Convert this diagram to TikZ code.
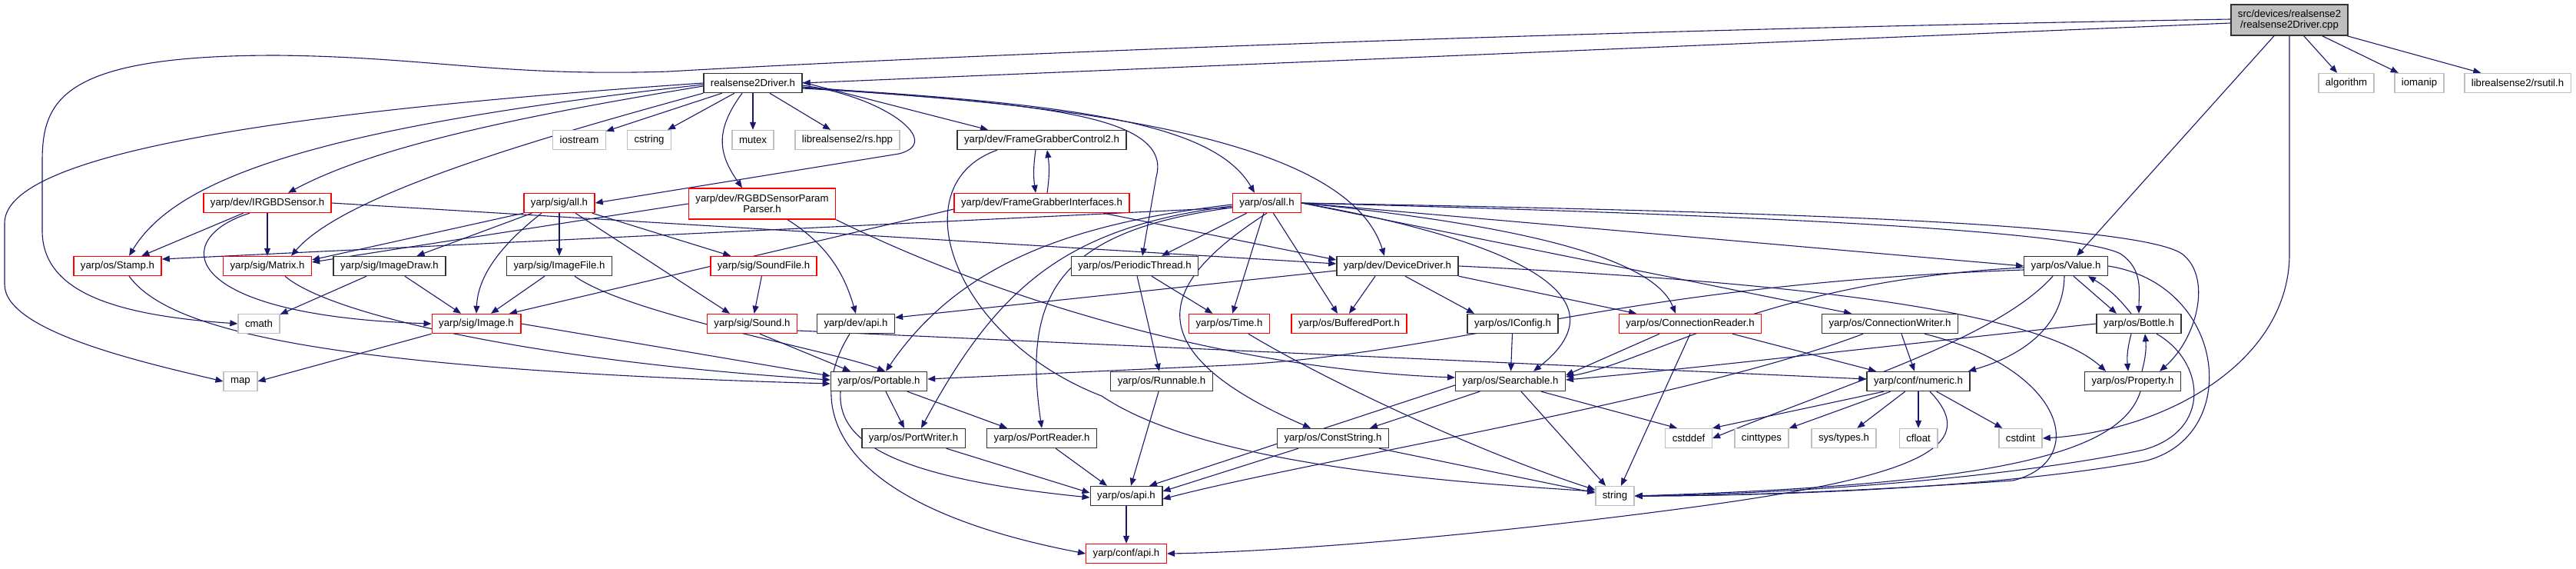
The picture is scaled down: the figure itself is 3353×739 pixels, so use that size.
\documentclass[tikz,border=0pt]{standalone}
\usepackage{fontspec}
\setmainfont{Liberation Sans}
\usepackage{tikz}
\usetikzlibrary{arrows.meta,backgrounds}
\definecolor{enlace}{HTML}{191970}
\definecolor{bordenegro}{HTML}{333333}
\definecolor{borderojo}{HTML}{FF0000}
\definecolor{bordegris}{HTML}{BFBFBF}
\definecolor{fondoraiz}{HTML}{BFBFBF}
\tikzset{
  fich/.style     = {draw=bordenegro, line width=1.4pt, fill=white, align=center,
                     font=\fontsize{13.2}{14}\selectfont, inner xsep=9pt,
                     inner ysep=2pt, minimum height=25pt},
  fichrojo/.style = {fich, draw=borderojo},
  fichsis/.style  = {fich, draw=bordegris},
  raiz/.style     = {fich, fill=fondoraiz, minimum height=40pt},
  flecha/.style   = {-{Triangle[length=10pt,width=8pt]}, draw=enlace, line width=1.1pt},
}

\begin{document}
\begin{tikzpicture}[x=1pt, y=-1pt]
  \useasboundingbox (0,0) rectangle (3353,739);
  \node[raiz] (cpp) at (2980,26) {src/devices/realsense2\\/realsense2Driver.cpp};
  \node[fich] (rs2h) at (980,108) {realsense2Driver.h};
  \node[fichsis] (algo) at (3054,108) {algorithm};
  \node[fichsis] (iomanip) at (3149,108) {iomanip};
  \node[fichsis] (rsutil) at (3277,108) {librealsense2/rsutil.h};
  \node[fichsis] (iostream) at (754,182) {iostream};
  \node[fichsis] (cstring) at (845,182) {cstring};
  \node[fichsis] (mutex) at (980,182) {mutex};
  \node[fichsis] (rshpp) at (1103,182) {librealsense2/rs.hpp};
  \node[fich] (fgc2) at (1356,182) {yarp/dev/FrameGrabberControl2.h};
  \node[fichrojo] (irgbd) at (348,264) {yarp/dev/IRGBDSensor.h};
  \node[fichrojo] (sigall) at (728,264) {yarp/sig/all.h};
  \node[fichrojo, minimum height=40pt] (rgbdpp) at (992,265) {yarp/dev/RGBDSensorParam\\Parser.h};
  \node[fichrojo] (fgi) at (1356,264) {yarp/dev/FrameGrabberInterfaces.h};
  \node[fichrojo] (osall) at (1649,264) {yarp/os/all.h};
  \node[fichrojo] (stamp) at (153,346) {yarp/os/Stamp.h};
  \node[fichrojo] (matrix) at (348,346) {yarp/sig/Matrix.h};
  \node[fich] (imgdraw) at (507,346) {yarp/sig/ImageDraw.h};
  \node[fich] (imgfile) at (728,346) {yarp/sig/ImageFile.h};
  \node[fichrojo] (soundfile) at (994,346) {yarp/sig/SoundFile.h};
  \node[fich] (pthread) at (1477,346) {yarp/os/PeriodicThread.h};
  \node[fich] (devdrv) at (1819,346) {yarp/dev/DeviceDriver.h};
  \node[fich] (value) at (2689,346) {yarp/os/Value.h};
  \node[fichsis] (cmath) at (337,421) {cmath};
  \node[fichrojo] (image) at (620,421) {yarp/sig/Image.h};
  \node[fichrojo] (sound) at (979,421) {yarp/sig/Sound.h};
  \node[fich] (devapi) at (1114,421) {yarp/dev/api.h};
  \node[fichrojo] (time) at (1600,421) {yarp/os/Time.h};
  \node[fichrojo] (bport) at (1756,421) {yarp/os/BufferedPort.h};
  \node[fich] (iconfig) at (1969,421) {yarp/os/IConfig.h};
  \node[fichrojo] (creader) at (2200,421) {yarp/os/ConnectionReader.h};
  \node[fich] (cwriter) at (2460,421) {yarp/os/ConnectionWriter.h};
  \node[fich] (bottle) at (2784,421) {yarp/os/Bottle.h};
  \node[fichsis] (map) at (313,496) {map};
  \node[fich] (portable) at (1144,496) {yarp/os/Portable.h};
  \node[fich] (runnable) at (1512,496) {yarp/os/Runnable.h};
  \node[fich] (searchable) at (1966,496) {yarp/os/Searchable.h};
  \node[fich] (numeric) at (2497,496) {yarp/conf/numeric.h};
  \node[fich] (property) at (2776,496) {yarp/os/Property.h};
  \node[fich] (pwriter) at (1189,570) {yarp/os/PortWriter.h};
  \node[fich] (preader) at (1356,570) {yarp/os/PortReader.h};
  \node[fich] (cstr) at (1735,570) {yarp/os/ConstString.h};
  \node[fichsis] (cstddef) at (2198,570) {cstddef};
  \node[fichsis] (cinttypes) at (2293,570) {cinttypes};
  \node[fichsis] (systypes) at (2400,570) {sys/types.h};
  \node[fichsis] (cfloat) at (2497,570) {cfloat};
  \node[fichsis] (cstdint) at (2630,570) {cstdint};
  \node[fich] (osapi) at (1466,645) {yarp/os/api.h};
  \node[fichsis] (string) at (2102,645) {string};
  \node[fichrojo] (confapi) at (1466,720) {yarp/conf/api.h};

  \begin{scope}[on background layer]
  \draw[flecha] ([yshift=-4pt]cpp.west) -- (rs2h.east);
  \draw[flecha] ([yshift=1pt]cpp.west) .. controls (2000,40) and (1200,74) .. (870,93) .. controls (650,100) and (560,74) .. (360,72) .. controls (80,72) and (55,130) .. (55,210) -- (55,300) .. controls (55,380) and (150,410) .. (cmath.west);
  \draw[flecha] ([xshift=-20pt]cpp.south) -- ([xshift=14pt]value.north);
  \draw[flecha] (cpp) -- (algo);
  \draw[flecha] (cpp) -- (iomanip);
  \draw[flecha] (cpp) -- (rsutil);
  \draw[flecha] (cpp.south) -- (2980,330) .. controls (2980,470) and (2820,560) .. (cstdint.east);

  \draw[flecha] (rs2h.west) .. controls (450,140) and (6,190) .. (6,290) -- (6,370) .. controls (6,430) and (180,470) .. (map.west);
  \draw[flecha] ([yshift=-2pt]rs2h.west) .. controls (420,165) and (230,230) .. ([xshift=15pt]stamp.north);
  \draw[flecha] ([yshift=-4pt]rs2h.west) .. controls (620,160) and (470,200) .. ([xshift=27pt]irgbd.north);
  \draw[flecha] (rs2h.south west) .. controls (720,175) and (450,250) .. ([xshift=31pt]matrix.north);
  \draw[flecha] (rs2h) -- (iostream);
  \draw[flecha] (rs2h) -- (cstring);
  \draw[flecha] (rs2h) -- (mutex);
  \draw[flecha] (rs2h) -- (rshpp);
  \draw[flecha] ([xshift=-14pt]rs2h.south) .. controls (930,170) and (935,200) .. ([xshift=-26pt]rgbdpp.north);
  \draw[flecha] ([yshift=-3pt]rs2h.east) .. controls (1150,125) and (1230,185) .. (1170,200) -- (sigall.east);
  \draw[flecha] ([yshift=1pt]rs2h.east) -- ([xshift=-70pt]fgc2.north);
  \draw[flecha] ([yshift=-5pt]rs2h.east) .. controls (1300,135) and (1530,140) .. (1505,230) -- ([xshift=10pt]pthread.north);
  \draw[flecha] ([yshift=-6pt]rs2h.east) .. controls (1400,135) and (1580,160) .. ([xshift=-16pt]osall.north);
  \draw[flecha] ([yshift=-7pt]rs2h.east) .. controls (1500,140) and (1760,200) .. ([xshift=-17pt]devdrv.north);

  \draw[flecha] (irgbd) -- (stamp);
  \draw[flecha] (irgbd) -- (matrix);
  \draw[flecha] ([xshift=-23pt]irgbd.south) .. controls (220,310) and (230,410) .. (image.west);
  \draw[flecha] (irgbd.east) -- ([yshift=3pt]devdrv.west);

  \draw[flecha] (sigall.south west) -- ([yshift=8pt]matrix.east);
  \draw[flecha] (sigall) -- (imgdraw);
  \draw[flecha] (sigall) -- (imgfile);
  \draw[flecha] (sigall) -- (soundfile);
  \draw[flecha] ([xshift=-23pt]sigall.south) .. controls (650,320) and (622,360) .. (image.north);
  \draw[flecha] ([xshift=21pt]sigall.south) -- ([xshift=-29pt]sound.north);

  \draw[flecha] (rgbdpp.west) -- ([yshift=5pt]matrix.east);
  \draw[flecha] ([xshift=33pt]rgbdpp.south) .. controls (1080,320) and (1100,360) .. (devapi.north);
  \draw[flecha] (rgbdpp.south east) .. controls (1300,390) and (1600,480) .. ([yshift=5pt]searchable.west);

  \draw[flecha] ([xshift=-8pt]fgc2.south) to[bend right=8] ([xshift=-8pt]fgi.north);
  \draw[flecha] ([xshift=7pt]fgi.north) to[bend right=8] ([xshift=7pt]fgc2.south);
  \draw[flecha] ([xshift=-58pt]fgc2.south) .. controls (1170,240) and (1240,440) .. (1434,515) .. controls (1560,600) and (1850,625) .. ([yshift=6pt]string.west);
  \draw[flecha] ([yshift=-8pt]fgi.west) -- ([xshift=43pt]image.north);
  \draw[flecha] ([xshift=80pt]fgi.south) -- ([yshift=8pt]devdrv.west);

  \draw[flecha] ([yshift=-6pt]osall.west) -- ([yshift=9pt]stamp.east);
  \draw[flecha] (osall) -- ([xshift=35pt]pthread.north);
  \draw[flecha] (osall) -- (time);
  \draw[flecha] (osall) -- ([xshift=-15pt]bport.north);
  \draw[flecha] ([yshift=-2pt]osall.west) .. controls (1400,290) and (1250,340) .. ([xshift=9pt]portable.north);
  \draw[flecha] ([yshift=-4pt]osall.west) .. controls (1390,295) and (1300,370) .. ([xshift=10pt]pwriter.north);
  \draw[flecha] ([yshift=-6pt]osall.west) .. controls (1380,300) and (1330,380) .. (preader.north);
  \draw[flecha] (osall.south) .. controls (1520,360) and (1460,450) .. ([xshift=-29pt]cstr.north);
  \draw[flecha] (osall.east) .. controls (1900,300) and (2140,370) .. ([xshift=30pt]searchable.north);
  \draw[flecha] (osall.east) .. controls (1950,290) and (2150,330) .. ([xshift=-19pt]creader.north);
  \draw[flecha] (osall.east) -- ([xshift=-50pt]cwriter.north);
  \draw[flecha] (osall.east) -- (value.west);
  \draw[flecha] (osall.east) .. controls (2300,280) and (2700,300) .. (2760,330) .. controls (2790,350) and (2784,380) .. (bottle.north);
  \draw[flecha] (osall.east) .. controls (2300,275) and (2780,290) .. (2840,330) .. controls (2880,360) and (2860,440) .. ([xshift=35pt]property.north);

  \draw[flecha] ([yshift=-6pt]devdrv.west) -- ([yshift=8pt]devapi.east);
  \draw[flecha] ([xshift=-29pt]devdrv.south) -- (bport.north);
  \draw[flecha] ([xshift=10pt]devdrv.south) -- ([xshift=-50pt]iconfig.north);
  \draw[flecha] (devdrv.south east) -- ([xshift=-70pt]creader.north);
  \draw[flecha] (devdrv.east) .. controls (2300,365) and (2650,400) .. ([xshift=-35pt]property.north);
  \draw[flecha] (iconfig) -- (searchable);

  \draw[flecha] ([xshift=10pt]value.south) -- ([xshift=-29pt]bottle.north);
  \draw[flecha] ([xshift=-10pt]bottle.north) to[bend right=10] ([xshift=29pt]value.south);
  \draw[flecha] ([yshift=-2pt]value.west) .. controls (2300,365) and (2150,470) .. ([yshift=6pt]searchable.east);
  \draw[flecha] ([yshift=-5pt]value.west) .. controls (2100,370) and (1900,460) .. (1600,475) -- ([yshift=3pt]portable.east);
  \draw[flecha] ([xshift=-2pt]value.south) .. controls (2686,420) and (2640,460) .. ([xshift=65pt]numeric.north);
  \draw[flecha] ([xshift=-17pt]value.south) .. controls (2600,440) and (2400,500) .. (cstddef.east);
  \draw[flecha] (value.east) .. controls (2900,370) and (2920,570) .. (2790,600) .. controls (2600,635) and (2300,645) .. (string.east);

  \draw[flecha] ([xshift=-10pt]bottle.south) to[bend right=10] ([xshift=-6pt]property.north);
  \draw[flecha] ([xshift=12pt]property.north) to[bend right=10] ([xshift=8pt]bottle.south);
  \draw[flecha] (bottle.west) .. controls (2500,445) and (2200,480) .. ([yshift=2pt]searchable.east);
  \draw[flecha] ([xshift=23pt]bottle.south) .. controls (2870,470) and (2880,560) .. (2790,585) .. controls (2600,625) and (2300,643) .. (string.east);
  \draw[flecha] ([xshift=10pt]property.south) .. controls (2760,590) and (2600,630) .. (string.east);

  \draw[flecha] ([xshift=45pt]cwriter.south) .. controls (2690,480) and (2720,600) .. (2620,625) .. controls (2400,640) and (2250,645) .. (string.east);
  \draw[flecha] ([xshift=15pt]cwriter.south) -- ([xshift=-5pt]numeric.north);
  \draw[flecha] ([xshift=-35pt]cwriter.south) .. controls (2200,520) and (1700,600) .. ([yshift=-4pt]osapi.east);
  \draw[flecha] ([xshift=-40pt]creader.south) -- ([yshift=8pt]searchable.east);
  \draw[flecha] (creader.south) -- ([xshift=8pt]string.north);
  \draw[flecha] ([xshift=55pt]creader.south) -- ([xshift=-55pt]numeric.north);

  \draw[flecha] (numeric) -- (cinttypes);
  \draw[flecha] (numeric) -- (systypes);
  \draw[flecha] (numeric) -- (cfloat);
  \draw[flecha] (numeric) -- (cstdint);
  \draw[flecha] ([xshift=-45pt]numeric.south) -- (cstddef.north east);
  \draw[flecha] ([xshift=15pt]numeric.south) .. controls (2580,580) and (2500,620) .. (2200,660) .. controls (1900,700) and (1650,718) .. (confapi.east);

  \draw[flecha] ([xshift=-40pt]searchable.south) -- ([xshift=48pt]cstr.north);
  \draw[flecha] ([xshift=14pt]searchable.south) -- ([xshift=-12pt]string.north);
  \draw[flecha] ([xshift=40pt]searchable.south) -- ([xshift=-15pt]cstddef.north);
  \draw[flecha] ([yshift=-5pt]searchable.west) -- ([xshift=30pt]osapi.north);
  \draw[flecha] ([xshift=-45pt]cstr.south) -- ([yshift=6pt]osapi.east);
  \draw[flecha] ([xshift=60pt]cstr.south) -- ([yshift=4pt]string.west);
  \draw[flecha] ([xshift=25pt]time.south) .. controls (1700,480) and (1900,580) .. ([yshift=8pt]string.west);

  \draw[flecha] (pthread) -- (runnable);
  \draw[flecha] ([xshift=22pt]pthread.south) -- (time);
  \draw[flecha] (runnable) -- ([xshift=6pt]osapi.north);
  \draw[flecha] (pwriter) -- ([yshift=4pt]osapi.west);
  \draw[flecha] (preader) -- ([xshift=-25pt]osapi.north);
  \draw[flecha] ([xshift=-50pt]portable.south) .. controls (1090,570) and (1150,620) .. ([yshift=-2pt]osapi.west);
  \draw[flecha] ([xshift=9pt]portable.south) -- ([xshift=-12pt]pwriter.north);
  \draw[flecha] ([xshift=37pt]portable.south) -- ([xshift=-45pt]preader.north);
  \draw[flecha] ([xshift=-8pt]devapi.south) .. controls (1040,540) and (1100,660) .. (confapi.west);
  \draw[flecha] (osapi) -- (confapi);

  \draw[flecha] (image.east) -- ([yshift=7pt]portable.west);
  \draw[flecha] (image.south west) -- (map.east);
  \draw[flecha] ([xshift=23pt]matrix.south) .. controls (430,410) and (700,470) .. ([yshift=2pt]portable.west);
  \draw[flecha] ([xshift=15pt]stamp.south) .. controls (220,430) and (420,480) .. ([yshift=-3pt]portable.west);
  \draw[flecha] ([xshift=20pt]imgfile.south) .. controls (820,410) and (1080,455) .. ([xshift=8pt]portable.north);
  \draw[flecha] (imgfile) -- (image);
  \draw[flecha] (imgdraw) -- (cmath);
  \draw[flecha] (imgdraw) -- (image);
  \draw[flecha] (soundfile) -- (sound);
  \draw[flecha] ([xshift=10pt]sound.south) -- ([xshift=-37pt]portable.north);
  \draw[flecha] ([yshift=-9pt]sound.east) -- ([yshift=3pt]numeric.west);
  \end{scope}
\end{tikzpicture}
\end{document}
